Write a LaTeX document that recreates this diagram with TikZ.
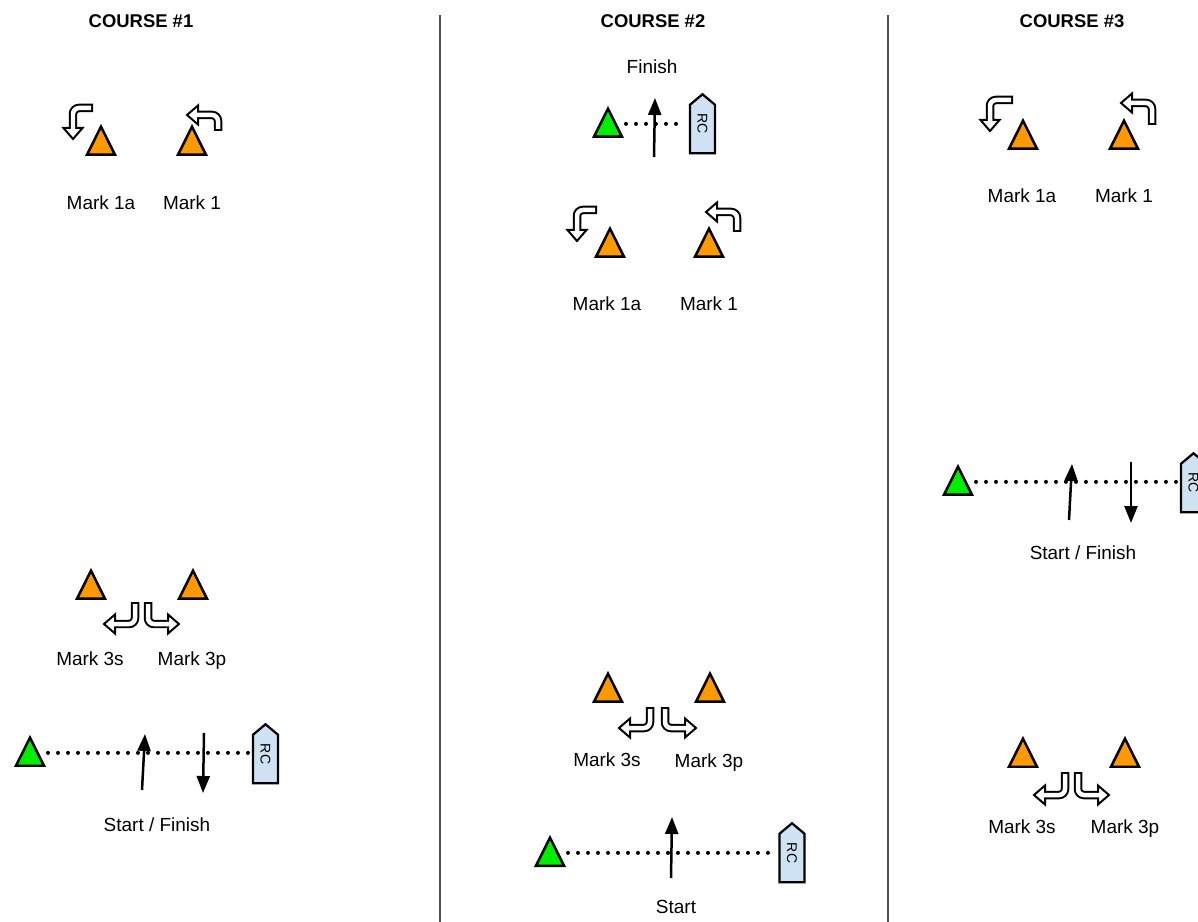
\documentclass[tikz,border=0pt]{standalone}
\usepackage{fontspec}
\setmainfont{Liberation Sans}
\usetikzlibrary{
    positioning,
    calc,
    arrows.meta,
	shapes.geometric,
    shapes.symbols
    }

\definecolor{buoyorange}{HTML}{FF9900}
\definecolor{buoygreen}{HTML}{00EE00}
\definecolor{boatblue}{HTML}{CFE2F3}
\definecolor{divgray}{HTML}{505050}

\begin{document}
\begin{tikzpicture}[x=0.02cm, y=-0.02cm]
% chktex-file 8
\tikzset{buoy/.style =
        {
            shape=isosceles triangle,
            shape border rotate=90,
            isosceles triangle apex angle=53,
            minimum size=0.56cm,
            inner sep=0cm,
            line width=0.05cm,
            fill=buoyorange,
            draw=black
        }
}

\tikzset{pin buoy/.style =
        {
            buoy,
            fill=buoygreen
        }
}

\tikzset{committee/.style =
        {
            shape=signal,
            signal to=west,
            signal pointer angle=100,
            rotate=-90,
            minimum width=1.18cm,
            minimum height=0.5cm,
            inner sep=0cm,
            line width=0.045cm,
            fill=boatblue,
            draw=black,
            font=\fontsize{8}{9}\selectfont
        }
}

\tikzset{dotline/.style = {
            line width=0.08cm,
            line cap=round,
            dash pattern=on 0pt off 0.2cm,
            shorten <=0.36cm,
            shorten >=0.06cm
        }
}

\tikzset{leg/.style = {
            line width=0.05cm,
            -{Triangle[length=0.34cm, width=0.26cm]}
        }
}

\tikzset{caption/.style = {
            inner sep=0cm,
            anchor=base,
            font=\fontsize{10.8}{13}\selectfont
        }
}

\tikzset{course title/.style = {
            caption,
            font=\bfseries\fontsize{10.5}{12}\selectfont
        }
}

\tikzset{divider/.style = { line width=0.03cm, divgray } }

\tikzset{turn arrow/.pic = {
            \draw [line width=0.17cm, rounded corners=0.12cm] (0,0) -- (0,-#1) -- (-21,-#1);
            \filldraw [fill=white, line width=0.04cm] (-20,-#1-9.5) -- (-31,-#1) -- (-20,-#1+9.5) -- cycle;
            \draw [white, line width=0.09cm, rounded corners=0.12cm] (0,-2) -- (0,-#1) -- (-22,-#1);
        }
}

		\fill[white] (0,0) rectangle (1198,922);
		\useasboundingbox (0,0) rectangle (1198,922);

		\draw[divider] (440,15) -- (440,922);
		\draw[divider] (888,15) -- (888,922);

		\foreach \name / \x / \txt in
			{t1/141/COURSE \#1,
				t2/653/COURSE \#2,
				t3/1072/COURSE \#3}
		\node[course title] (\name) at (\x,28) {\txt};

		% marks
		\foreach \name / \x / \y in
			{c1-m1a/101/156, c1-m1/192/156,
				c1-m3s/91/600, c1-m3p/193/600,
				c2-m1a/610/258, c2-m1/709/258,
				c2-m3s/608/703, c2-m3p/710/703,
				c3-m1a/1023/150, c3-m1/1124/150,
				c3-m3s/1023/768, c3-m3p/1125/768}
		\node[buoy, anchor=south] (\name) at (\x,\y) {};

		\foreach \name / \x / \y / \txt in
			{c1-m1a/101/210/Mark 1a, c1-m1/192/210/Mark 1,
				c1-m3s/90/665/Mark 3s, c1-m3p/192/665/Mark 3p,
				c2-m1a/607/311/Mark 1a, c2-m1/709/311/Mark 1,
				c2-m3s/607/766/Mark 3s, c2-m3p/709/767/Mark 3p,
				c3-m1a/1022/203/Mark 1a, c3-m1/1124/203/Mark 1,
				c3-m3s/1022/833/Mark 3s, c3-m3p/1125/833/Mark 3p}
		\node[caption] (\name-lbl) at (\x,\y) {\txt};

		% roundings
		\pic at (218,131) {turn arrow=16};
		\pic[rotate=90] at (93,108) {turn arrow=20};
		\pic[yscale=-1] at (135,602) {turn arrow=22};
		\pic[rotate=180] at (148,602) {turn arrow=22};

		\pic at (737,232) {turn arrow=20};
		\pic[rotate=90] at (597,210) {turn arrow=20};
		\pic[yscale=-1] at (650,707) {turn arrow=21};
		\pic[rotate=180] at (665,707) {turn arrow=21};

		\pic at (1152,125) {turn arrow=22};
		\pic[rotate=90] at (1013,100) {turn arrow=23};
		\pic[yscale=-1] at (1065,772) {turn arrow=23};
		\pic[rotate=180] at (1078,772) {turn arrow=23};

		% start and finish lines
		\node[pin buoy, anchor=south] (c1-pin) at (30,767) {};
		\node[committee] (c1-rc) at (265.5,759) {RC\kern0.2cm};
		\node[pin buoy, anchor=south] (c2-fpin) at (608,138) {};
		\node[committee] (c2-frc) at (702.5,129) {RC\kern0.2cm};
		\node[pin buoy, anchor=south] (c2-spin) at (550,867) {};
		\node[committee] (c2-src) at (792,858) {RC\kern0.2cm};
		\node[pin buoy, anchor=south] (c3-pin) at (958,496) {};
		\node[committee] (c3-rc) at (1193.5,488) {RC\kern0.2cm};

		\foreach \start / \finish in
			{c1-pin/c1-rc,
				c2-fpin/c2-frc,
				c2-spin/c2-src,
				c3-pin/c3-rc}
			{
				\path ($(\start.apex)!0.56!(\start.south)$) coordinate (\start-mid);
				\draw[dotline] (\start-mid) -- (\start-mid -| \finish.south);
			}

		\foreach \name / \x / \y in
			{c1-up-a/142/790, c1-up-b/145/734,
				c1-dn-a/204/733, c1-dn-b/203/793,
				c2-fup-a/654/157, c2-fup-b/655/98,
				c2-sup-a/671/878, c2-sup-b/672/817,
				c3-up-a/1069/520, c3-up-b/1072/464,
				c3-dn-a/1131/462, c3-dn-b/1131/523}
		\coordinate (\name) at (\x,\y);

		\foreach \tail / \head in
			{c1-up-a/c1-up-b,
				c1-dn-a/c1-dn-b,
				c2-fup-a/c2-fup-b,
				c2-sup-a/c2-sup-b,
				c3-up-a/c3-up-b,
				c3-dn-a/c3-dn-b}
		\draw[leg] (\tail) -- (\head);

		\node[caption] (c1-sf) at (157,831) {Start / Finish};
		\node[caption] (c2-fin) at (652,74) {Finish};
		\node[caption] (c2-st) at (676,913) {Start};
		\node[caption] (c3-sf) at (1083,560) {Start / Finish};

	\end{tikzpicture}
\end{document}
